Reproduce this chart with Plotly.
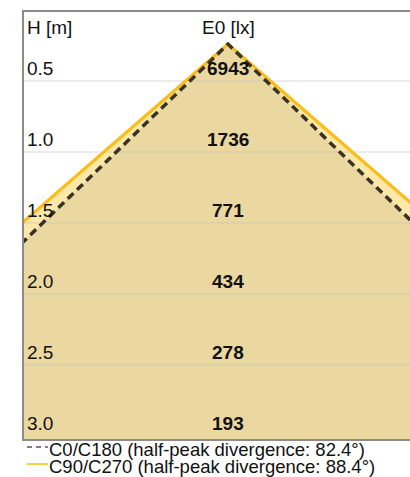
import math
import plotly.graph_objects as go

# Mounting heights [m] and the centre illuminance at each height [lx]
heights = [0.5, 1.0, 1.5, 2.0, 2.5, 3.0]
e0_lx = [6943, 1736, 771, 434, 278, 193]
height_labels = ["0.5", "1.0", "1.5", "2.0", "2.5", "3.0"]

# Half-peak divergence angles of the two C-planes [deg]
c0_divergence = 82.4
c90_divergence = 88.4
legend_labels = [
    "C0/C180 (half-peak divergence: 82.4°)",
    "C90/C270 (half-peak divergence: 88.4°)",
]

# Luminaire position (top of the cone) in chart units
apex_x = 0.0
apex_h = 0.24
cone_end_h = 4.0  # cone edges run past the lower frame and get clipped

FONT = "Liberation Sans, Arial, sans-serif"
FS = 19
TAN = "#eAd8a0"
LIGHT_YELLOW = "#fce8a8"
YELLOW = "#fbbd17"
DARK = "#3a3224"


def cone(divergence):
    half = math.radians(divergence / 2.0)
    spread = (cone_end_h - apex_h) * math.tan(half)
    xs = [apex_x - spread, apex_x, apex_x + spread]
    ys = [cone_end_h, apex_h, cone_end_h]
    return xs, ys


x90, y90 = cone(c90_divergence)
x0, y0 = cone(c0_divergence)

fig = go.Figure()

# Filled light cones
fig.add_trace(go.Scatter(x=x90, y=y90, fill="toself", fillcolor=LIGHT_YELLOW,
                         mode="none", hoverinfo="skip", showlegend=False))
fig.add_trace(go.Scatter(x=x0, y=y0, fill="toself", fillcolor=TAN,
                         mode="none", hoverinfo="skip", showlegend=False))

# Horizontal grid lines on top of the fills
for h in heights[:-1]:
    fig.add_trace(go.Scatter(x=[-10, 10], y=[h, h], mode="lines",
                             line=dict(color="rgba(195,195,195,0.6)", width=1.2),
                             hoverinfo="skip", showlegend=False))

# Cone edges
fig.add_trace(go.Scatter(x=x90, y=y90, mode="lines",
                         line=dict(color=YELLOW, width=3.2),
                         hoverinfo="skip", showlegend=False))
fig.add_trace(go.Scatter(x=x0, y=y0, mode="lines",
                         line=dict(color=DARK, width=3.5, dash="8px,5px"),
                         hoverinfo="skip", showlegend=False))

annotations = []
txt_font = dict(family=FONT, size=FS, color="#111")
# Column headers
annotations.append(dict(text="H [m]", x=0, xref="paper", xanchor="left", xshift=1,
                        y=1, yref="paper", yanchor="top", yshift=-3,
                        showarrow=False, font=txt_font))
annotations.append(dict(text="E0 [lx]", x=apex_x, xref="x", xanchor="center",
                        y=1, yref="paper", yanchor="top", yshift=-3,
                        showarrow=False, font=txt_font))

# Height labels and illuminance values
for h, lab, e in zip(heights, height_labels, e0_lx):
    annotations.append(dict(text=lab, x=0, xref="paper", xanchor="left", xshift=1,
                            y=h, yref="y", yanchor="bottom", yshift=0,
                            showarrow=False, font=txt_font))
    annotations.append(dict(text=f"<b>{e}</b>", x=apex_x, xref="x", xanchor="center",
                            y=h, yref="y", yanchor="bottom", yshift=0,
                            showarrow=False, font=txt_font))

# Legend text below the frame
for i, lab in enumerate(legend_labels):
    annotations.append(dict(text=lab, x=0, xref="paper", xanchor="left", xshift=24,
                            y=0, yref="paper", yanchor="middle", yshift=-10 - 17 * i,
                            borderpad=0, showarrow=False,
                            font=dict(family=FONT, size=18.5, color="#111")))

shapes = [
    dict(type="line", xref="paper", yref="paper", xsizemode="pixel", ysizemode="pixel",
         xanchor=0, yanchor=0, x0=3, x1=24, y0=-8, y1=-8,
         line=dict(color="#555", width=1.5, dash="5px,4px")),
    dict(type="line", xref="paper", yref="paper", xsizemode="pixel", ysizemode="pixel",
         xanchor=0, yanchor=0, x0=3, x1=24, y0=-25, y1=-25,
         line=dict(color="#f5c000", width=1.5)),
]

fig.update_layout(
    width=410, height=477,
    margin=dict(l=24, r=0, t=12, b=38),
    paper_bgcolor="white", plot_bgcolor="white",
    xaxis=dict(range=[-1.214, 1.083], showgrid=False, zeroline=False,
               showticklabels=False, ticks="", showline=True, mirror=True,
               linecolor="#8c8c8c", linewidth=1.5, fixedrange=True),
    yaxis=dict(range=[3.021, 0.014], showgrid=False, zeroline=False,
               showticklabels=False, ticks="", showline=True, mirror=False,
               linecolor="#8c8c8c", linewidth=1.5, fixedrange=True),
    annotations=annotations,
    shapes=shapes,
    showlegend=False,
)

fig.write_html("out.html")
